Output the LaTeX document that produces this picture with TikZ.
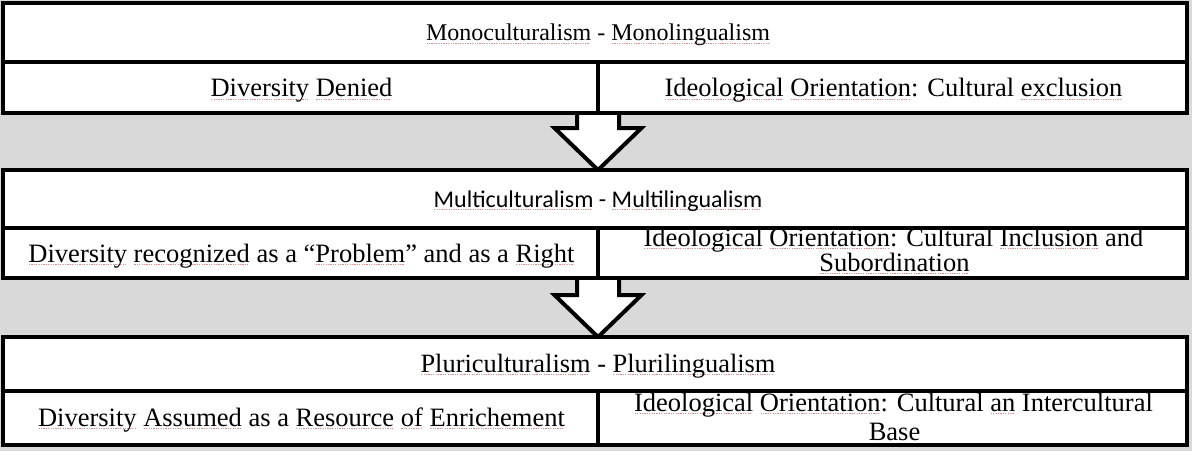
\documentclass[tikz,border=0pt]{standalone}
\usepackage{fontspec}
\setmainfont{Liberation Serif}
\newfontfamily\calibrifont{Carlito}
\usetikzlibrary{calc}

\definecolor{panelgray}{HTML}{D9D9D9}
\definecolor{spellred}{HTML}{E98A8A}

% dotted red underline used for the marked words
\newcommand\spl[1]{\leavevmode\hbox{\setbox0=\hbox{#1}%
  \rlap{\color{spellred}\hbox to\wd0{\leaders\hbox to 2.4pt{\hss\vrule width 1.2pt height -2.4pt depth 3.4pt\hss}\hfill}}%
  \box0}}

\pgfdeclarelayer{back}
\pgfdeclarelayer{arrows}
\pgfsetlayers{back,arrows,main}

\tikzset{
  cell/.style={draw=black, line width=4pt, fill=white, inner sep=0pt, outer sep=0pt},
  rowtext/.style={font=\fontsize{26.5}{26.5}\selectfont, anchor=base, inner sep=0pt},
  titletext/.style={anchor=base, inner sep=0pt},
  blockarrow/.style={draw=black, line width=4pt, fill=white, line join=miter}
}

\begin{document}
\begin{tikzpicture}[x=1pt, y=-1pt]
\useasboundingbox (0,0) rectangle (1192,451);
\begin{pgfonlayer}{back}
  \fill[panelgray] (0,0) rectangle (1192,451);
\end{pgfonlayer}

% ---- first stage ----
\node[cell, minimum width=1184pt, minimum height=59pt] (t1) at (595,32.5) {};
\node[cell, minimum width=595pt, minimum height=51pt] (l1) at (300.5,87.5) {};
\node[cell, minimum width=589pt, minimum height=51pt] (r1) at (892.5,87.5) {};
\node[titletext, font=\fontsize{24}{24}\selectfont] (t1txt) at ($(t1.center)+(3,8)$)
  {\spl{Monoculturalism} - \spl{Monolingualism}};
\node[rowtext] (l1txt) at ($(l1.center)+(1,9)$) {\spl{Diversity} \spl{Denied}};
\node[rowtext] (r1txt) at ($(r1.center)+(1,9)$)
  {\spl{Ideological} \spl{Orientation}: Cultural \spl{exclusion}};

% ---- second stage ----
\node[cell, minimum width=1184pt, minimum height=58pt] (t2) at (595,199) {};
\node[cell, minimum width=595pt, minimum height=50pt] (l2) at (300.5,253) {};
\node[cell, minimum width=589pt, minimum height=50pt] (r2) at (892.5,253) {};
\node[titletext, font=\calibrifont\fontsize{24}{24}\selectfont] (t2txt) at ($(t2.center)+(3,8)$)
  {\spl{Multiculturalism} - \spl{Multilingualism}};
\node[rowtext] (l2txt) at ($(l2.center)+(1,9)$)
  {\spl{Diversity} \spl{recognized} as a “\spl{Problem}” and as a \spl{Right}};
\node[rowtext] (r2txta) at ($(r2.center)+(1,-7)$)
  {\spl{Ideological} \spl{Orientation}: Cultural \spl{Inclusion} and};
\node[rowtext] (r2txtb) at ($(r2.center)+(2,18)$) {\spl{Subordination}};

% ---- third stage ----
\node[cell, minimum width=1184pt, minimum height=54pt] (t3) at (595,364) {};
\node[cell, minimum width=595pt, minimum height=54pt] (l3) at (300.5,418) {};
\node[cell, minimum width=589pt, minimum height=54pt] (r3) at (892.5,418) {};
\node[titletext, font=\fontsize{26.4}{26.4}\selectfont] (t3txt) at ($(t3.center)+(3,8)$)
  {\spl{Pluriculturalism} - \spl{Plurilingualism}};
\node[rowtext] (l3txt) at ($(l3.center)+(1,8)$)
  {\spl{Diversity} \spl{Assumed} as a \spl{Resource} \spl{of} \spl{Enrichement}};
\node[rowtext] (r3txta) at ($(r3.center)+(1,-7)$)
  {\spl{Ideological} \spl{Orientation}: Cultural \spl{an} Intercultural};
\node[rowtext] (r3txtb) at ($(r3.center)+(2,22)$) {Base};

% ---- block arrows between the stages ----
\begin{pgfonlayer}{arrows}
  \draw[blockarrow]
    ($(l1.south east)+(-21,0)$) -- ($(l1.south east)+(-21,15)$)
    -- ($(l1.south east)+(-43.5,15)$) -- (l1.south east |- t2.north)
    -- ($(l1.south east)+(43.5,15)$) -- ($(l1.south east)+(21,15)$)
    -- ($(l1.south east)+(21,0)$);
  \draw[blockarrow]
    ($(l2.south east)+(-21,0)$) -- ($(l2.south east)+(-21,17)$)
    -- ($(l2.south east)+(-43.5,17)$) -- (l2.south east |- t3.north)
    -- ($(l2.south east)+(43.5,17)$) -- ($(l2.south east)+(21,17)$)
    -- ($(l2.south east)+(21,0)$);
\end{pgfonlayer}
\end{tikzpicture}
\end{document}
